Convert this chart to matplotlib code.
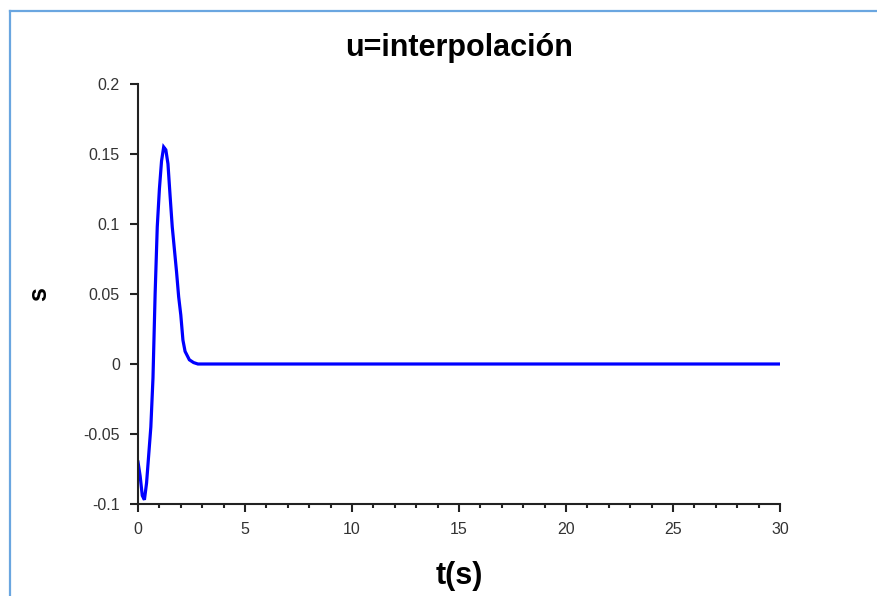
import numpy as np
import matplotlib.pyplot as plt
from matplotlib.lines import Line2D
from matplotlib.ticker import MultipleLocator

plt.rcParams['font.family'] = ['Liberation Sans', 'DejaVu Sans']

# response
t = [0, 0.1, 0.2, 0.3, 0.4, 0.5, 0.6, 0.7, 0.8, 0.9, 1.0, 1.1, 1.2, 1.3,
     1.4, 1.5, 1.6, 1.7, 1.8, 1.9, 2.0, 2.1, 2.2, 2.4, 2.6, 2.8, 3.0, 30]
s = [-0.070, -0.080, -0.094, -0.097, -0.085, -0.065, -0.045, -0.010, 0.050,
     0.098, 0.125, 0.145, 0.155, 0.153, 0.143, 0.120, 0.098, 0.082, 0.066,
     0.048, 0.035, 0.017, 0.009, 0.003, 0.001, 0.0, 0.0, 0.0]

xticks = [0, 5, 10, 15, 20, 25, 30]
yticks = [-0.1, -0.05, 0, 0.05, 0.1, 0.15, 0.2]
ytick_labels = ['-0.1', '-0.05', '0', '0.05', '0.1', '0.15', '0.2']

fig = plt.figure(figsize=(8.78, 5.96), dpi=100)
ax = fig.add_axes([138 / 878, 1 - 504 / 596, 642 / 878, 420 / 596])

ax.plot(t, s, color='#0000ff', lw=2.3, solid_joinstyle='miter')

ax.set_xlim(0, 30)
ax.set_ylim(-0.1, 0.2)
ax.set_xticks(xticks)
ax.set_xticklabels([str(v) for v in xticks])
ax.set_yticks(yticks)
ax.set_yticklabels(ytick_labels)
ax.xaxis.set_minor_locator(MultipleLocator(1))

for side in ['top', 'right']:
    ax.spines[side].set_visible(False)
for side in ['left', 'bottom']:
    ax.spines[side].set_linewidth(1.5)
    ax.spines[side].set_color('#222222')

ax.tick_params(axis='both', which='major', direction='out', length=6, width=1.5,
               color='#222222', labelsize=11.5, labelcolor='#333333', pad=7)
ax.tick_params(axis='x', which='minor', direction='out', length=3, width=1.5,
               color='#222222')

ax.set_title('u=interpolación', fontsize=22, fontweight='bold', pad=20)
ax.set_xlabel('t(s)', fontsize=22, fontweight='bold', labelpad=17)
ax.set_ylabel('s', fontsize=18, fontweight='bold')
ax.yaxis.set_label_coords(-(138 - 51) / 642, 0.5)

# window frame (left and top edges)
frame = '#6aa6e0'
fig.add_artist(Line2D([10.5 / 878, 10.5 / 878], [0, 1 - 10.5 / 596],
                      transform=fig.transFigure, color=frame, lw=1.6))
fig.add_artist(Line2D([10.5 / 878, 1], [1 - 10.5 / 596, 1 - 10.5 / 596],
                      transform=fig.transFigure, color=frame, lw=1.6))

fig.savefig('out.png', dpi=100)
